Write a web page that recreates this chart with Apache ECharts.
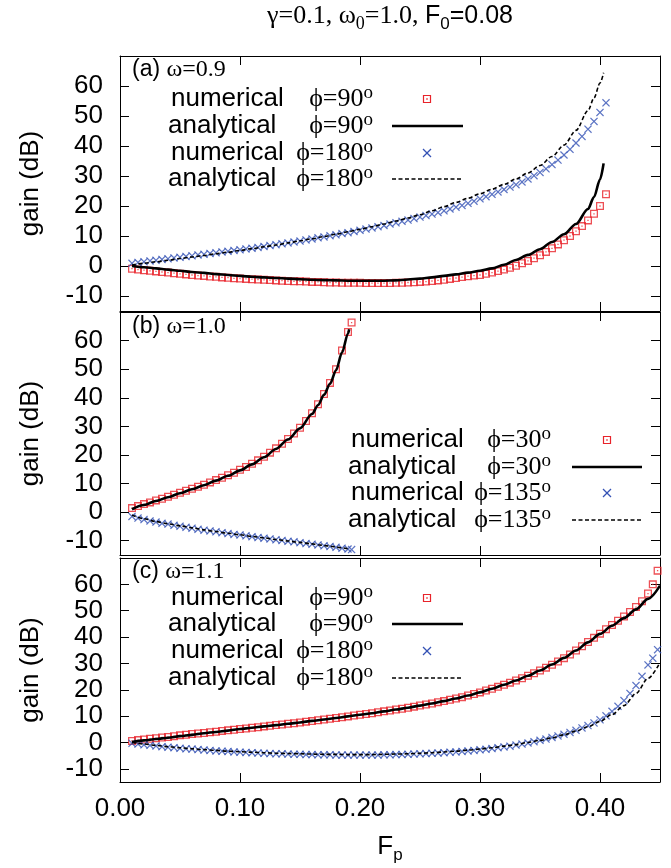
<!DOCTYPE html>
<html>
<head>
<meta charset="utf-8">
<title>gain vs Fp</title>
<script src="https://cdn.jsdelivr.net/npm/echarts@6.0.0/dist/echarts.min.js"></script>
<style>
  html, body { margin: 0; padding: 0; background: #fff; }
  #chart { width: 671px; height: 868px; }
</style>
</head>
<body>
<div id="chart"></div>
<script>
// tick labels
const xTicks = [0, 0.1, 0.2, 0.3, 0.4];
const yTicks = [-10, 0, 10, 20, 30, 40, 50, 60];

// (a) omega = 0.9, phi = 90 / 180
const fpA = [
  0.010, 0.015, 0.020, 0.025, 0.030, 0.035, 0.040, 0.045, 0.050, 0.055,
  0.060, 0.065, 0.070, 0.075, 0.080, 0.085, 0.090, 0.095, 0.100, 0.105,
  0.110, 0.115, 0.120, 0.125, 0.130, 0.135, 0.140, 0.145, 0.150, 0.155,
  0.160, 0.165, 0.170, 0.175, 0.180, 0.185, 0.190, 0.195, 0.200, 0.205,
  0.210, 0.215, 0.220, 0.225, 0.230, 0.235, 0.240, 0.245, 0.250, 0.255,
  0.260, 0.265, 0.270, 0.275, 0.280, 0.285, 0.290, 0.295, 0.300, 0.305,
  0.310, 0.315, 0.320, 0.325, 0.330, 0.335, 0.340, 0.345, 0.350, 0.355,
  0.360, 0.365, 0.370, 0.375, 0.380, 0.385, 0.390, 0.395, 0.400, 0.405
];
const numA90 = [
  -0.9, -1.2, -1.4, -1.6, -1.8, -2.0, -2.2, -2.4, -2.6, -2.8,
  -3.0, -3.2, -3.3, -3.5, -3.6, -3.8, -3.9, -4.1, -4.2, -4.3,
  -4.4, -4.5, -4.6, -4.7, -4.8, -4.9, -5.0, -5.1, -5.1, -5.2,
  -5.3, -5.3, -5.4, -5.5, -5.5, -5.6, -5.6, -5.6, -5.6, -5.7,
  -5.7, -5.7, -5.7, -5.7, -5.6, -5.6, -5.5, -5.4, -5.3, -5.2,
  -5.0, -4.8, -4.6, -4.3, -4.0, -3.7, -3.4, -3.2, -3.0, -2.6,
  -2.2, -1.7, -1.2, -0.6, 0.1, 0.9, 1.7, 2.6, 3.6, 4.7,
  5.9, 7.2, 8.6, 10.0, 11.6, 13.3, 15.2, 17.4, 20.0, 23.9
];
const numA180 = [
  0.9, 1.2, 1.4, 1.7, 1.9, 2.2, 2.4, 2.7, 2.9, 3.2,
  3.4, 3.7, 3.9, 4.2, 4.4, 4.7, 4.9, 5.2, 5.4, 5.7,
  5.9, 6.2, 6.5, 6.8, 7.1, 7.4, 7.7, 8.0, 8.3, 8.7,
  9.0, 9.4, 9.7, 10.1, 10.4, 10.8, 11.1, 11.5, 11.9, 12.3,
  12.7, 13.1, 13.5, 14.0, 14.4, 14.9, 15.3, 15.8, 16.3, 16.8,
  17.3, 17.8, 18.4, 19.0, 19.6, 20.2, 20.9, 21.6, 22.4, 23.1,
  23.9, 24.7, 25.5, 26.3, 27.1, 28.0, 29.0, 30.1, 31.2, 32.4,
  33.8, 35.3, 37.0, 38.9, 41.0, 43.2, 45.6, 48.2, 51.2, 54.4
];
const fpLineA = [
  0.01, 0.02, 0.03, 0.04, 0.05, 0.06, 0.07, 0.08, 0.09, 0.10,
  0.11, 0.12, 0.13, 0.14, 0.15, 0.16, 0.17, 0.18, 0.19, 0.20,
  0.21, 0.22, 0.23, 0.24, 0.25, 0.26, 0.27, 0.28, 0.29, 0.30,
  0.31, 0.32, 0.33, 0.34, 0.35, 0.36, 0.37, 0.38, 0.39, 0.395, 0.400, 0.403
];
const anaA90 = [
  0.0, -0.4, -0.8, -1.2, -1.6, -2.0, -2.3, -2.7, -3.0, -3.3,
  -3.6, -3.8, -4.0, -4.2, -4.4, -4.6, -4.7, -4.8, -4.9, -4.9,
  -4.9, -4.9, -4.8, -4.5, -4.2, -3.8, -3.3, -2.8, -2.2, -1.6,
  -0.8, 0.4, 2.0, 3.7, 5.6, 8.0, 10.6, 14.0, 19.0, 23.0, 28.8, 34.2
];
const anaA180 = [
  0.3, 0.9, 1.4, 1.9, 2.5, 3.0, 3.5, 4.1, 4.6, 5.2,
  5.8, 6.4, 7.0, 7.7, 8.4, 9.1, 9.8, 10.6, 11.4, 12.2,
  13.1, 14.0, 15.0, 16.0, 17.1, 18.4, 19.8, 21.2, 22.6, 24.1,
  25.6, 27.2, 29.0, 31.0, 33.5, 36.5, 40.3, 45.2, 51.8, 56.0, 61.0, 64.4
];

// (b) omega = 1.0, phi = 30 / 135
const fpB = [
  0.010, 0.015, 0.020, 0.025, 0.030, 0.035, 0.040, 0.045, 0.050, 0.055,
  0.060, 0.065, 0.070, 0.075, 0.080, 0.085, 0.090, 0.095, 0.100, 0.105,
  0.110, 0.115, 0.120, 0.125, 0.130, 0.135, 0.140, 0.145, 0.150, 0.155,
  0.160, 0.165, 0.170, 0.175, 0.180, 0.185, 0.190, 0.193
];
const numB30 = [
  1.4, 2.1, 2.8, 3.4, 4.1, 4.7, 5.4, 6.1, 6.8, 7.5,
  8.2, 8.9, 9.6, 10.4, 11.2, 12.0, 12.9, 13.8, 14.8, 15.8,
  16.9, 18.1, 19.4, 20.8, 22.3, 23.9, 25.6, 27.5, 29.5, 31.9,
  34.6, 37.7, 41.3, 45.2, 50.0, 56.5, 63.0, 66.3
];
const numB135 = [
  -1.5, -2.1, -2.6, -3.1, -3.5, -3.9, -4.2, -4.6, -4.9, -5.3,
  -5.6, -6.0, -6.3, -6.6, -6.9, -7.2, -7.5, -7.8, -8.0, -8.3,
  -8.6, -8.9, -9.1, -9.4, -9.7, -9.9, -10.2, -10.4, -10.7, -11.0,
  -11.2, -11.5, -11.8, -12.0, -12.3, -12.6, -12.9, -13.1
];
const fpLineB = [
  0.01, 0.02, 0.03, 0.04, 0.05, 0.06, 0.07, 0.08, 0.09, 0.10,
  0.11, 0.12, 0.13, 0.14, 0.15, 0.16, 0.165, 0.17, 0.175, 0.18, 0.185, 0.19, 0.191
];
const anaB30 = [
  1.0, 2.5, 3.9, 5.2, 6.6, 8.0, 9.4, 11.0, 12.7, 14.6,
  16.7, 19.2, 22.1, 25.4, 29.3, 34.3, 37.4, 41.0, 44.9, 49.6, 55.8, 62.5, 64.0
];
const anaB135 = [
  -1.0, -2.3, -3.3, -4.1, -4.8, -5.5, -6.2, -6.8, -7.4, -7.9,
  -8.5, -9.0, -9.6, -10.1, -10.6, -11.1, -11.4, -11.7, -11.9, -12.2, -12.5, -12.8, -12.9
];

// (c) omega = 1.1, phi = 90 / 180
const fpC = [
  0.010, 0.015, 0.020, 0.025, 0.030, 0.035, 0.040, 0.045, 0.050, 0.055,
  0.060, 0.065, 0.070, 0.075, 0.080, 0.085, 0.090, 0.095, 0.100, 0.105,
  0.110, 0.115, 0.120, 0.125, 0.130, 0.135, 0.140, 0.145, 0.150, 0.155,
  0.160, 0.165, 0.170, 0.175, 0.180, 0.185, 0.190, 0.195, 0.200, 0.205,
  0.210, 0.215, 0.220, 0.225, 0.230, 0.235, 0.240, 0.245, 0.250, 0.255,
  0.260, 0.265, 0.270, 0.275, 0.280, 0.285, 0.290, 0.295, 0.300, 0.305,
  0.310, 0.315, 0.320, 0.325, 0.330, 0.335, 0.340, 0.345, 0.350, 0.355,
  0.360, 0.365, 0.370, 0.375, 0.380, 0.385, 0.390, 0.395, 0.400, 0.405,
  0.410, 0.415, 0.420, 0.425, 0.430, 0.435, 0.440, 0.444, 0.448
];
const numC90 = [
  0.6, 0.9, 1.1, 1.4, 1.6, 1.9, 2.1, 2.4, 2.7, 2.9,
  3.2, 3.4, 3.6, 3.9, 4.1, 4.4, 4.6, 4.8, 5.1, 5.3,
  5.6, 5.8, 6.1, 6.3, 6.6, 6.8, 7.1, 7.3, 7.6, 7.9,
  8.1, 8.4, 8.7, 9.0, 9.3, 9.6, 9.9, 10.2, 10.5, 10.8,
  11.1, 11.5, 11.8, 12.1, 12.5, 12.8, 13.2, 13.6, 14.0, 14.4,
  14.8, 15.3, 15.7, 16.2, 16.7, 17.2, 17.8, 18.4, 19.0, 19.7,
  20.4, 21.1, 21.9, 22.7, 23.5, 24.4, 25.3, 26.3, 27.3, 28.4,
  29.5, 30.7, 32.0, 33.4, 34.9, 36.5, 38.1, 39.7, 41.3, 43.0,
  44.6, 46.2, 47.8, 49.5, 51.4, 53.6, 56.5, 60.0, 65.2
];
const numC180 = [
  -0.3, -0.6, -0.9, -1.1, -1.3, -1.6, -1.8, -2.0, -2.2, -2.4,
  -2.5, -2.7, -2.9, -3.0, -3.2, -3.3, -3.4, -3.6, -3.7, -3.8,
  -3.9, -4.0, -4.1, -4.2, -4.3, -4.3, -4.4, -4.5, -4.5, -4.6,
  -4.6, -4.7, -4.7, -4.7, -4.8, -4.8, -4.8, -4.8, -4.8, -4.8,
  -4.8, -4.8, -4.7, -4.7, -4.6, -4.6, -4.5, -4.4, -4.3, -4.2,
  -4.1, -4.0, -3.9, -3.7, -3.6, -3.4, -3.2, -3.0, -2.8, -2.6,
  -2.3, -2.0, -1.7, -1.4, -1.0, -0.6, -0.2, 0.3, 0.8, 1.3,
  1.9, 2.5, 3.1, 3.8, 4.6, 5.5, 6.4, 7.4, 8.6, 10.1,
  11.8, 13.7, 15.9, 18.6, 21.6, 25.1, 29.4, 32.0, 35.2
];
const fpLineC = [
  0.01, 0.02, 0.03, 0.04, 0.05, 0.06, 0.07, 0.08, 0.09, 0.10,
  0.11, 0.12, 0.13, 0.14, 0.15, 0.16, 0.17, 0.18, 0.19, 0.20,
  0.21, 0.22, 0.23, 0.24, 0.25, 0.26, 0.27, 0.28, 0.29, 0.30,
  0.31, 0.32, 0.33, 0.34, 0.35, 0.36, 0.37, 0.38, 0.39, 0.40,
  0.41, 0.42, 0.43, 0.44, 0.45
];
const anaC90 = [
  0.2, 0.8, 1.3, 1.8, 2.4, 2.9, 3.5, 4.0, 4.5, 5.1,
  5.6, 6.1, 6.6, 7.1, 7.6, 8.2, 8.7, 9.3, 9.9, 10.5,
  11.1, 11.8, 12.5, 13.2, 14.0, 14.8, 15.7, 16.7, 17.8, 19.0,
  20.4, 21.9, 23.5, 25.3, 27.3, 29.6, 32.1, 34.9, 38.0, 41.2,
  44.3, 47.2, 50.5, 54.5, 59.5
];
const anaC180 = [
  0.0, -0.6, -1.1, -1.6, -2.0, -2.4, -2.7, -3.0, -3.3, -3.5,
  -3.7, -3.9, -4.1, -4.2, -4.3, -4.4, -4.5, -4.5, -4.6, -4.6,
  -4.6, -4.5, -4.4, -4.3, -4.1, -3.9, -3.6, -3.3, -2.9, -2.5,
  -2.0, -1.4, -0.8, 0.0, 0.8, 1.8, 2.9, 4.3, 6.0, 8.0,
  10.6, 14.0, 18.6, 24.3, 30.4
];

// legend texts
const legendNames = ['numerical', 'analytical', 'numerical', 'analytical'];
const phiA = ['90', '90', '180', '180'];
const phiB = ['30', '30', '135', '135'];
const phiC = ['90', '90', '180', '180'];

const SANS = '"Liberation Sans", Arial, Helvetica, sans-serif';
const SERIF = '"Liberation Serif", "DejaVu Serif", "Times New Roman", serif';
const RED = '#e8232a';
const BLUE = '#3552b5';
// square outline with a centre dot, and a thin "x"
const SQUARE = 'path://M0,0H10V10H0Z M1.6,1.6V8.4H8.4V1.6Z M4.2,4.2H5.8V5.8H4.2Z';
const CROSS = 'path://M0,1.1L1.1,0L5,3.9L8.9,0L10,1.1L6.1,5L10,8.9L8.9,10L5,6.1L1.1,10L0,8.9L3.9,5Z';

const grids = [
  { left: 120, top: 56, width: 540, height: 255 },
  { left: 120, top: 312, width: 540, height: 243 },
  { left: 120, top: 558, width: 540, height: 224 }
];

const zip = (xs, ys) => xs.map((x, i) => [x, ys[i]]);

const tickStyle = { inside: true, length: 9, lineStyle: { color: '#000', width: 1 } };
const lineStyle = { show: true, onZero: false, lineStyle: { color: '#000', width: 1 } };

const xAxes = [];
const yAxes = [];
[0, 1, 2].forEach(k => {
  xAxes.push({
    type: 'value', gridIndex: k, position: 'bottom', min: 0, max: 0.45,
    axisLine: lineStyle, splitLine: { show: false },
    axisTick: Object.assign({ customValues: xTicks }, tickStyle),
    axisLabel: {
      show: k === 2, customValues: xTicks, margin: 14, color: '#000',
      fontFamily: SANS, fontSize: 26, formatter: v => v.toFixed(2)
    },
    name: k === 2 ? '{f|F}{p|p}' : '', nameLocation: 'middle', nameGap: 48,
    nameTextStyle: {
      rich: {
        f: { fontFamily: SANS, fontSize: 26, color: '#000', lineHeight: 34 },
        p: { fontFamily: SANS, fontSize: 17, color: '#000', lineHeight: 17, verticalAlign: 'bottom' }
      }
    }
  });
});
[0, 1, 2].forEach(k => {
  xAxes.push({
    type: 'value', gridIndex: k, position: 'top', min: 0, max: 0.45,
    axisLine: lineStyle, splitLine: { show: false },
    axisTick: Object.assign({ customValues: xTicks }, tickStyle),
    axisLabel: { show: false }
  });
});
[0, 1, 2].forEach(k => {
  yAxes.push({
    type: 'value', gridIndex: k, position: 'left', min: -15, max: 70,
    axisLine: lineStyle, splitLine: { show: false },
    axisTick: Object.assign({ customValues: yTicks }, tickStyle),
    axisLabel: { customValues: yTicks, margin: 17, color: '#000', fontFamily: SANS, fontSize: 26 },
    name: 'gain (dB)', nameLocation: 'middle', nameGap: 76,
    nameTextStyle: { fontFamily: SANS, fontSize: 26, color: '#000' }
  });
});
[0, 1, 2].forEach(k => {
  yAxes.push({
    type: 'value', gridIndex: k, position: 'right', min: -15, max: 70,
    axisLine: lineStyle, splitLine: { show: false },
    axisTick: Object.assign({ customValues: yTicks }, tickStyle),
    axisLabel: { show: false }
  });
});

function panelSeries(k, fpNum, num1, num2, fpAna, ana1, ana2) {
  return [
    {
      type: 'scatter', xAxisIndex: k, yAxisIndex: k, data: zip(fpNum, num1),
      symbol: SQUARE, symbolSize: 8, itemStyle: { color: RED }, silent: true
    },
    {
      type: 'line', xAxisIndex: k, yAxisIndex: k, data: zip(fpAna, ana1),
      symbol: 'none', smooth: 0.3, smoothMonotone: 'x',
      lineStyle: { color: '#000', width: 2.6 }, silent: true
    },
    {
      type: 'scatter', xAxisIndex: k, yAxisIndex: k, data: zip(fpNum, num2),
      symbol: CROSS, symbolSize: 8, itemStyle: { color: BLUE }, silent: true
    },
    {
      type: 'line', xAxisIndex: k, yAxisIndex: k, data: zip(fpAna, ana2),
      symbol: 'none', smooth: 0.3, smoothMonotone: 'x',
      lineStyle: { color: '#000', width: 1.6, type: [4, 2.5] }, silent: true
    }
  ];
}

const series = [].concat(
  panelSeries(0, fpA, numA90, numA180, fpLineA, anaA90, anaA180),
  panelSeries(1, fpB, numB30, numB135, fpLineB, anaB30, anaB135),
  panelSeries(2, fpC, numC90, numC180, fpLineC, anaC90, anaC180)
);

// legend blocks (gnuplot style: text, then sample on the right)
const legendLayout = [
  { textL: [171, 168, 171, 168], textR: 373, x1: 392, x2: 463, sx: 427, rows: [99, 126, 153, 179] },
  { textL: [351, 348, 351, 348], textR: 551, x1: 572, x2: 642, sx: 607, rows: [440, 467, 493, 520] },
  { textL: [171, 168, 171, 168], textR: 373, x1: 392, x2: 463, sx: 427, rows: [598, 624, 651, 678] }
];

const supRich = {
  m: { fontFamily: SERIF, fontSize: 26, lineHeight: 30, fill: '#000' },
  o: { fontFamily: SERIF, fontSize: 19, lineHeight: 12, verticalAlign: 'top', fill: '#000' }
};

function legendBlock(phis, L) {
  const els = [];
  legendNames.forEach((name, i) => {
    const y = L.rows[i];
    els.push({
      type: 'text', silent: true,
      style: { text: name, x: L.textL[i], y: y, fontFamily: SANS, fontSize: 26, fill: '#000', align: 'left', verticalAlign: 'middle' }
    });
    els.push({
      type: 'text', silent: true,
      style: { text: '{m|ϕ=' + phis[i] + '}{o|o}', x: L.textR, y: y, rich: supRich, align: 'right', verticalAlign: 'middle' }
    });
  });
  const [y0, y1, y2, y3] = L.rows;
  els.push({ type: 'rect', silent: true, shape: { x: L.sx - 3.5, y: y0 - 3.5, width: 7, height: 7 }, style: { fill: 'none', stroke: RED, lineWidth: 1.2 } });
  els.push({ type: 'rect', silent: true, shape: { x: L.sx - 0.7, y: y0 - 0.7, width: 1.4, height: 1.4 }, style: { fill: RED } });
  els.push({ type: 'line', silent: true, shape: { x1: L.x1, y1: y1, x2: L.x2, y2: y1 }, style: { stroke: '#000', lineWidth: 2.6 } });
  els.push({ type: 'line', silent: true, shape: { x1: L.sx - 4, y1: y2 - 4, x2: L.sx + 4, y2: y2 + 4 }, style: { stroke: BLUE, lineWidth: 1.2 } });
  els.push({ type: 'line', silent: true, shape: { x1: L.sx - 4, y1: y2 + 4, x2: L.sx + 4, y2: y2 - 4 }, style: { stroke: BLUE, lineWidth: 1.2 } });
  els.push({ type: 'line', silent: true, shape: { x1: L.x1, y1: y3, x2: L.x2, y2: y3 }, style: { stroke: '#000', lineWidth: 1.6, lineDash: [4, 2.5] } });
  return els;
}

function panelLabel(tag, omega, y) {
  return {
    type: 'text', silent: true,
    style: {
      text: '{p|(' + tag + ') }{g|ω=' + omega + '}', x: 132, y: y, align: 'left', verticalAlign: 'middle',
      rich: {
        p: { fontFamily: SANS, fontSize: 23, fill: '#000' },
        g: { fontFamily: SERIF, fontSize: 24, fill: '#000' }
      }
    }
  };
}

const titleEl = {
  type: 'text', silent: true,
  style: {
    text: '{s|γ=0.1, ω}{sub|0}{s|=1.0, }{a|F}{sub2|0}{a|=0.08}',
    x: 390, y: 16, align: 'center', verticalAlign: 'middle',
    rich: {
      s: { fontFamily: SERIF, fontSize: 26, lineHeight: 34, fill: '#000' },
      sub: { fontFamily: SERIF, fontSize: 18, lineHeight: 17, verticalAlign: 'bottom', fill: '#000' },
      a: { fontFamily: SANS, fontSize: 25, lineHeight: 34, fill: '#000' },
      sub2: { fontFamily: SANS, fontSize: 17, lineHeight: 17, verticalAlign: 'bottom', fill: '#000' }
    }
  }
};

const graphics = [titleEl,
  panelLabel('a', '0.9', 70), panelLabel('b', '1.0', 327), panelLabel('c', '1.1', 572)]
  .concat(legendBlock(phiA, legendLayout[0]))
  .concat(legendBlock(phiB, legendLayout[1]))
  .concat(legendBlock(phiC, legendLayout[2]));

const chart = echarts.init(document.getElementById('chart'), null, { renderer: 'canvas' });
chart.setOption({
  animation: false,
  backgroundColor: '#fff',
  grid: grids,
  xAxis: xAxes,
  yAxis: yAxes,
  series: series,
  graphic: { elements: graphics }
});
</script>
</body>
</html>
